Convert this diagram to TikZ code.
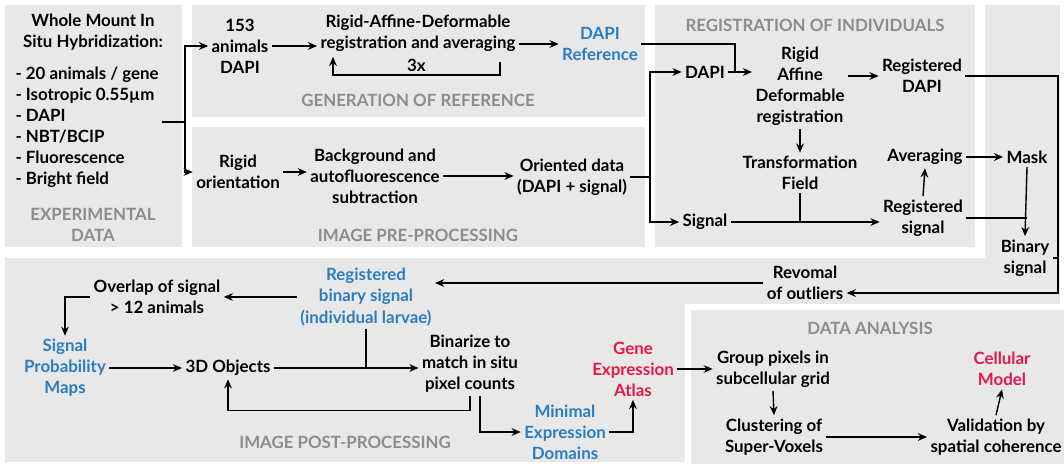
\documentclass[tikz,border=0pt]{standalone}
\usepackage{fontspec}
\setmainfont{Lato}
\usepackage{tikz}
\usetikzlibrary{calc, arrows.meta, positioning}
\definecolor{panelgray}{HTML}{E8E8E8}
\definecolor{titlegray}{HTML}{8C8C8C}
\definecolor{refblue}{HTML}{2A7DC2}
\definecolor{atlasred}{HTML}{E8174A}

\begin{document}
\begin{tikzpicture}[x=0.025cm, y=-0.025cm,
    line width=1pt,
    >={Stealth[length=6.5pt,width=5.5pt]},
    lab/.style={font=\fontsize{12}{15}\selectfont\bfseries, align=center, inner sep=2pt},
    hd/.style={font=\fontsize{12}{15}\selectfont\bfseries, text=titlegray, align=center, inner sep=2pt},
    bl/.style={lab, text=refblue},
    rd/.style={lab, text=atlasred}]

  \useasboundingbox (0,0) rectangle (1064,464);

  \fill[panelgray] (5,5) rectangle (182,247);
  \fill[panelgray] (192,5) rectangle (645,117);
  \fill[panelgray] (192,127) rectangle (645,247);
  \fill[panelgray] (655,5) rectangle (975,247);
  \fill[panelgray] (985,5) rectangle (1060,262);
  \fill[panelgray] (5,258) rectangle (1060,462);
  \filldraw[fill=panelgray, draw=white, line width=4pt] (688,307) rectangle (1070,475);

  \node[lab] (wmish) at (93,32) {Whole Mount In\\Situ Hybridization:};
  \node[lab, align=left, anchor=west] (list) at (12,127) {- 20 animals / gene\\- Isotropic 0.55µm\\- DAPI\\- NBT/BCIP\\- Fluorescence\\- Bright field};
  \node[hd] (expt) at (93,225) {EXPERIMENTAL\\DATA};

  \node[lab] (a153) at (240,46) {153\\animals\\DAPI};
  \node[lab] (rad) at (418,33) {Rigid-Affine-Deformable\\registration and averaging};
  \node[bl] (dref) at (600,44) {DAPI\\Reference};
  \node[hd] (gent) at (418,100) {GENERATION OF REFERENCE};

  \node[lab] (rigo) at (238,172) {Rigid\\orientation};
  \node[lab] (bas) at (375,176) {Background and\\autofluorescence\\subtraction};
  \node[lab] (ori) at (572,177) {Oriented data\\(DAPI + signal)};
  \node[hd] (pret) at (418,235) {IMAGE PRE-PROCESSING};

  \node[hd] (regt) at (815,25) {REGISTRATION OF INDIVIDUALS};
  \node[lab] (dapi) at (705,72) {DAPI};
  \node[lab] (rigid) at (800,86) {Rigid\\Affine\\Deformable\\registration};
  \node[lab] (regdapi) at (922,76) {Registered\\DAPI};
  \node[lab] (tf) at (800,173) {Transformation\\Field};
  \node[lab] (avg) at (925,157) {Averaging};
  \node[lab] (mask) at (1027,157) {Mask};
  \node[lab] (signal) at (705,222) {Signal};
  \node[lab] (regsig) at (923,218) {Registered\\signal};
  \node[lab] (binsig) at (1025,258) {Binary\\signal};

  \node[lab] (revo) at (805,283) {Revomal\\of outliers};
  \node[bl] (rbs) at (366,297) {Registered\\binary signal\\(individual larvae)};
  \node[lab] (ovl) at (157,297) {Overlap of signal\\> 12 animals};
  \node[bl] (spm) at (65,368) {Signal\\Probability\\Maps};
  \node[lab] (obj) at (228,368) {3D Objects};
  \node[lab] (bin) at (470,364) {Binarize to\\match in situ\\pixel counts};
  \node[bl] (med) at (565,432) {Minimal\\Expression\\Domains};
  \node[rd] (gea) at (633,369) {Gene\\Expression\\Atlas};
  \node[hd] (postt) at (345,442) {IMAGE POST-PROCESSING};

  \node[hd] (anat) at (870,328) {DATA ANALYSIS};
  \node[lab] (gp) at (773,369) {Group pixels in\\subcellular grid};
  \node[lab] (clu) at (774,437) {Clustering of\\Super-Voxels};
  \node[rd] (cm) at (1002,369) {Cellular\\Model};
  \node[lab] (val) at (996,437) {Validation by\\spatial coherence};

  \coordinate (ej) at (185,122);
  \draw (list.east |- ej) -- (ej);
  \draw[->] (ej) |- (a153.west);
  \draw[->] (ej) |- (rigo.west);

  \draw[->] (a153.east) -- (a153.east -| rad.west);
  \draw[->] (rad.east |- dref.west) -- (dref.west);
  \draw[->] ($(rad.south)+(82,7)$) -- ++(0,13) -| ($(rad.south)+(-85,2)$) node[pos=0.25, above, lab]{3x};
  \draw[->] (rigo.east) -- (rigo.east -| bas.west);
  \draw[->] (bas.east) -- (bas.east -| ori.west);

  \coordinate (dj) at (735,72);
  \coordinate (oj) at (650,177);
  \draw (dref.east) -| (dj);
  \draw (ori.east) -- (oj);
  \draw[->] (oj) |- (dapi.west);
  \draw[->] (oj) |- (signal.west);
  \draw[->] (dapi.east) -- (dapi.east -| rigid.west);
  \draw[->] (rigid.east |- regdapi.west) -- (regdapi.west);
  \draw[->] (rigid.south) -- (tf.north);
  \draw[->] (signal.east) -- (signal.east -| regsig.west);
  \draw (tf.south) -- (tf.south |- signal.east);
  \draw[->] (regsig.north) -- (avg.south);
  \draw[->] (avg.east) -- (mask.west);
  \draw[->] (mask.south) -- (binsig.north);
  \draw (regsig.east) -- (regsig.east -| mask.south);

  \coordinate (rc) at (1058,293);
  \draw[->] (regdapi.east) -| (rc) -- (rc -| revo.east);
  \draw (binsig.east) -- (binsig.east -| rc);

  \draw[->] (revo.west) -- (revo.west -| rbs.east);
  \draw[->] (rbs.west |- ovl.east) -- (ovl.east);
  \draw[->] (ovl.west) -| (spm.north);
  \draw[->] (spm.east |- obj.west) -- (obj.west);
  \draw[->] (obj.east) -- (obj.east -| bin.west);
  \draw (rbs.south) -- (rbs.south |- obj.east);
  \draw[->] ($(bin.south)+(0,0)$) -- ++(0,14) -| (obj.south);
  \draw[->] ($(bin.south)+(10,0)$) |- (med.west);
  \draw[->] (med.east) -| (gea.south);
  \draw[->] (gea.east |- gp.west) -- (gp.west);
  \draw[->] (gp.south) -- (clu.north);
  \draw[->] (clu.east) -- (clu.east -| val.west);
  \draw[->] (val.north) -- (cm.south);
\end{tikzpicture}
\end{document}
